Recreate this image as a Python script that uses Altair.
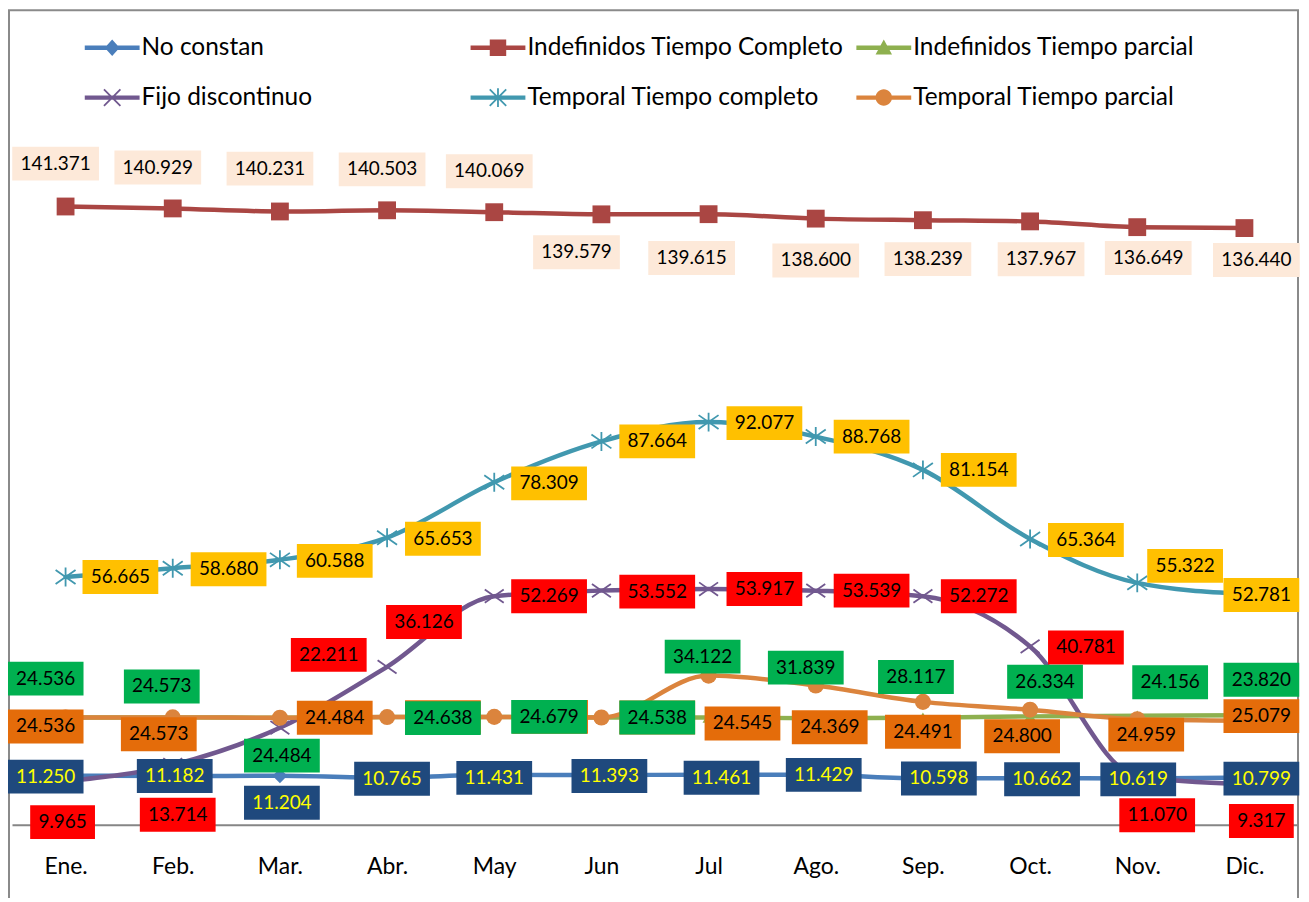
import altair as alt
import pandas as pd

# ---------------- data ----------------
months = ["Ene.", "Feb.", "Mar.", "Abr.", "May", "Jun", "Jul", "Ago.", "Sep.", "Oct.", "Nov.", "Dic."]
series_names = ["No constan", "Indefinidos Tiempo Completo", "Indefinidos Tiempo parcial",
                "Fijo discontinuo", "Temporal Tiempo completo", "Temporal Tiempo parcial"]

no_constan = [11.250, 11.182, 11.204, 10.765, 11.431, 11.393, 11.461, 11.429, 10.598, 10.662, 10.619, 10.799]
indef_tc = [141.371, 140.929, 140.231, 140.503, 140.069, 139.579, 139.615, 138.600, 138.239, 137.967, 136.649, 136.440]
indef_tp = [24.536, 24.573, 24.484, 24.638, 24.679, 24.538, 24.545, 24.369, 24.491, 24.800, 24.959, 25.079]
fijo = [9.965, 13.714, 22.211, 36.126, 52.269, 53.552, 53.917, 53.539, 52.272, 40.781, 11.070, 9.317]
temp_tc = [56.665, 58.680, 60.588, 65.653, 78.309, 87.664, 92.077, 88.768, 81.154, 65.364, 55.322, 52.781]
temp_tp = [24.536, 24.573, 24.484, 24.638, 24.679, 24.538, 34.122, 31.839, 28.117, 26.334, 24.156, 23.820]
series_values = [no_constan, indef_tc, indef_tp, fijo, temp_tc, temp_tp]

# ---------------- styles ----------------
line_colors = ["#4A7EBB", "#AA4643", "#8EB04F", "#71588F", "#4198AF", "#DB843D"]
box_fills = ["#1F497D", "#FDE9D9", "#E46C0A", "#FF0000", "#FFC000", "#00B050"]
text_colors = ["#FFFF00", "#000000", "#000000", "#000000", "#000000", "#000000"]

# label box placement (pixel offset of box centre from its point), as in the original
label_dx = [
    [-20, 2, 2, 5, 0, 8, 13, 8, 16, 12, 1, 17],
    [-10, -15, -10, -5, -5, -25, -17, 0, 5, 11, 11, 12],
    [-20, -14, 55, 56, 56, 56, 34, 14, 0, -8, 9, 17],
    [-3, 5, 49, 37, 55, 56, 56, 56, 56, 56, 20, 17],
    [55, 56, 55, 56, 55, 56, 56, 56, 56, 56, 48, 17],
    [-20, -11, 2, 56, 55, 56, -6, -10, -7, 15, 33, 17],
]
label_dy = [
    [1, 0, 27, 1, 3, 1, 3, 0, 0, 1, 1, 1],
    [-43, -41, -43, -41, -41, 38, 44, 42, 39, 38, 31, 32],
    [9, 17, 0, 0, 0, 0, 6, 9, 14, 20, 19, 1],
    [41, 50, -73, -45, 0, 1, 0, 0, 0, 1, 39, 37],
    [0, 1, 1, 1, 1, 0, 1, 0, 0, 1, -17, 1],
    [-39, -31, 38, 1, 0, 0, -19, -18, -25, -28, -37, -41],
]

# chart markers (shape, size, filled)
marker_shapes = [
    ("diamond", 220, True),
    ("square", 320, True),
    ("triangle-up", 150, True),
    ("M-1,-0.7L1,0.7M-1,0.7L1,-0.7", 361, False),
    ("M-1,-0.7L1,0.7M-1,0.7L1,-0.7M0,-0.95L0,0.95", 400, False),
    ("circle", 260, True),
]

# legend symbols: line segment + marker, all filled paths
LINE = "M-1,-0.08L1,-0.08L1,0.08L-1,0.08Z"
XBARS = ("M-0.277,-0.323L0.323,0.277L0.277,0.323L-0.323,-0.277Z"
         "M-0.323,0.277L0.277,-0.323L0.323,-0.277L-0.277,0.323Z")
legend_paths = [
    LINE + "M0,-0.3L0.27,0L0,0.3L-0.27,0Z",
    LINE + "M-0.3,-0.3L0.3,-0.3L0.3,0.3L-0.3,0.3Z",
    LINE + "M0,-0.3L0.3,0.25L-0.3,0.25Z",
    LINE + XBARS,
    LINE + XBARS + "M-0.033,-0.34L0.033,-0.34L0.033,0.34L-0.033,0.34Z",
    LINE + "M0.3,0A0.3,0.3 0 1,1 -0.3,0A0.3,0.3 0 1,1 0.3,0Z",
]

rows = []
for k, name in enumerate(series_names):
    for i, v in enumerate(series_values[k]):
        rows.append({"series": name, "k": k, "i": i, "v": v, "col": line_colors[k],
                     "dx": label_dx[k][i], "dy": label_dy[k][i]})
df = pd.DataFrame(rows)

FONT = "Lato"
label_expr = "[" + ",".join("'" + m + "'" for m in months) + "][datum.value]"

x_enc = alt.X("i:Q", scale=alt.Scale(domain=[-0.5, 11.5], nice=False, zero=False),
              axis=alt.Axis(values=list(range(12)), labelExpr=label_expr, title=None,
                            grid=False, ticks=False, domainColor="#868686", domainWidth=2,
                            labelFont=FONT, labelFontSize=23, labelColor="#000000",
                            labelPadding=31, labelFlush=False, labelOverlap=False))
y_enc = alt.Y("v:Q", scale=alt.Scale(domain=[0, 160], nice=False), axis=None)

base = alt.Chart(df)

frame = alt.Chart(pd.DataFrame({"a": [0]})).mark_rect(
    fill="transparent", stroke="#8A8A8A", strokeWidth=2
).encode(x=alt.value(-3), x2=alt.value(1290), y=alt.value(-115), y2=alt.value(800))

lines = base.mark_line(strokeWidth=4.5, interpolate="monotone", strokeCap="round",
                       strokeJoin="round").encode(
    x=x_enc, y=y_enc, color=alt.Color("col:N", scale=None), detail="series:N",
    order="i:Q")

layers = [frame, lines]

for k, name in enumerate(series_names):
    shp, size, filled = marker_shapes[k]
    if filled:
        mk = base.transform_filter(alt.datum.k == k).mark_point(
            shape=shp, size=size, filled=True, fill=line_colors[k], opacity=1, strokeWidth=0)
    else:
        mk = base.transform_filter(alt.datum.k == k).mark_point(
            shape=shp, size=size, filled=False, stroke=line_colors[k], strokeWidth=1.8, opacity=1)
    layers.append(mk.encode(x=x_enc, y=y_enc))

for k, name in enumerate(series_names):
    lab = base.transform_filter(alt.datum.k == k).transform_calculate(
        w="length(format(datum.v, '.3f')) * 11 + 10")
    box = lab.mark_rect(
        fill=box_fills[k],
        xOffset={"expr": "datum.dx - datum.w / 2"},
        x2Offset={"expr": "datum.dx + datum.w / 2"},
        yOffset={"expr": "datum.dy - 17"},
        y2Offset={"expr": "datum.dy + 17"},
    ).encode(x=x_enc, x2="i:Q", y=y_enc, y2="v:Q")
    txt = lab.mark_text(
        font=FONT, fontSize=19, align="center", baseline="middle", color=text_colors[k],
        dx={"expr": "datum.dx"}, dy={"expr": "datum.dy"},
    ).encode(x=x_enc, y=y_enc, text=alt.Text("v:Q", format=".3f"))
    layers += [box, txt]

leg = alt.Legend(title=None, orient="none", legendX=73, legendY=-105, direction="horizontal",
                 columns=3, gridAlign="all", symbolSize=3025, labelFont=FONT, labelFontSize=24.5,
                 labelColor="#000000", labelOffset=2, labelLimit=600, columnPadding=12,
                 rowPadding=11, padding=0, symbolStrokeWidth=0, symbolOpacity=1)

dummy = base.transform_filter("datum.i < 0").mark_point(filled=True, opacity=1).encode(
    x=x_enc, y=y_enc,
    color=alt.Color("series:N", scale=alt.Scale(domain=series_names, range=line_colors), legend=leg),
    shape=alt.Shape("series:N", scale=alt.Scale(domain=series_names, range=legend_paths), legend=leg),
)
layers.append(dummy)

chart = alt.layer(*layers).properties(
    width=1290, height=702,
    padding={"left": 4, "top": 116, "right": 3, "bottom": 72},
    autosize=alt.AutoSizeParams(type="none"),
    background="white",
).configure_view(stroke=None)

chart.save("out.html", embed_options={"renderer": "svg", "actions": False})
